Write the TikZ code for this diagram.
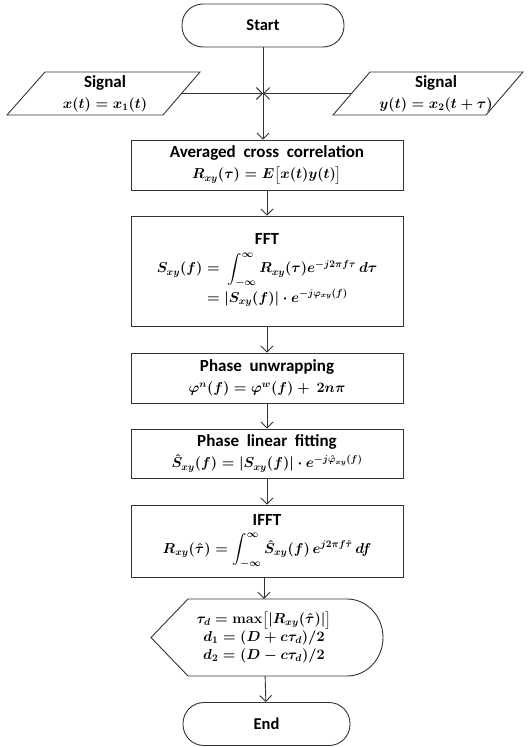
\documentclass[tikz,border=0pt]{standalone}
\usepackage{amsmath}
\usepackage[no-math]{fontspec}
\setmainfont{Carlito}
\usetikzlibrary{arrows.meta}
\newcommand\mathline[1]{{\fontsize{14.5}{20}\selectfont$#1$}}
\begin{document}
\begin{tikzpicture}[x=1pt,y=-1pt,
  line/.style={draw=black!80, line width=0.9pt},
  arr/.style={line, -{Straight Barb[length=6pt,width=12pt]}},
  txt/.style={font=\fontsize{17}{20}\selectfont\bfseries\boldmath, align=center},
  proc/.style={line, txt, rectangle, minimum width=272pt, inner sep=0pt},
  term/.style={line, txt, font=\fontsize{16.5}{20}\selectfont\bfseries, rounded corners=21pt, minimum width=162pt, minimum height=43pt, inner sep=0pt},
  lbl/.style={txt, inner sep=0pt}
]
\useasboundingbox (0,0) rectangle (531,747);

\node[term] (start) at (263,25.5) {Start};

% input parallelograms
\draw[line] (7,115) -- (45,72) -- (200,72) -- (163,115) -- cycle;
\node[lbl, minimum height=43pt] (sigx) at (105,93.5) {Signal\\[1pt] \mathline{x(t) = x_1(t)}};
\draw[line] (333,115) -- (370,72) -- (523,72) -- (486,115) -- cycle;
\node[lbl, minimum height=43pt] (sigy) at (436,93.5) {Signal\\[1pt] \mathline{y(t) = x_2(t+\tau)}};
\coordinate (sxr) at (181.5,93.5);
\coordinate (syl) at (351.5,93.5);
\coordinate (j) at (263,93.5);

\node[proc, minimum height=50pt] (corr) at (267,165) {Averaged\ \ cross\ \ correlation\\[1pt] \mathline{R_{xy}(\tau) = E\bigl[x(t)y(t)\bigr]}};

\node[proc, minimum height=110pt] (fft) at (267,271) {FFT\\[7pt]
 \mathline{\begin{aligned} S_{xy}(f) &=\ \int_{-\infty}^{\infty} R_{xy}(\tau)e^{-j2\pi f\tau}\,d\tau\\[-3pt]
 &= |S_{xy}(f)|\cdot e^{-j\varphi_{xy}(f)}\end{aligned}}};

\node[proc, minimum height=50pt] (unwrap) at (267,378) {Phase\ \ unwrapping\\[1pt] \mathline{\varphi^{n}(f) = \varphi^{w}(f) +\ 2n\pi}};

\node[proc, minimum height=49pt] (fit) at (267,453.5) {Phase\ \ linear\ \ fitting\\[1pt] \mathline{\hat{S}_{xy}(f) = |S_{xy}(f)|\cdot e^{-j\hat{\varphi}_{xy}(f)}}};

\node[proc, minimum height=72pt] (ifft) at (267,541) {IFFT\\[7pt] \mathline{\displaystyle R_{xy}(\hat{\tau}) = \int_{-\infty}^{\infty}\hat{S}_{xy}(f)\,e^{j2\pi f\hat{\tau}}\,df}};

% display shape
\draw[line] (188,599) -- (347,599) arc[start angle=-90,end angle=90,x radius=36,y radius=38.5] -- (188,676) -- (151,637.5) -- cycle;
\node[lbl, minimum height=77pt] (disp) at (264,637.5) {\mathline{\tau_d = \max\bigl[|R_{xy}(\hat{\tau})|\bigr]}\\[-2pt] \mathline{d_1 = (D + c\tau_d)/2}\\[-2pt] \mathline{d_2 = (D - c\tau_d)/2}};

\node[term, minimum width=167pt] (end) at (266.5,724) {End};

\draw[arr] (start) -- (start |- corr.north);
\draw[arr] (sxr) -- (j);
\draw[arr] (syl) -- (j);
\draw[arr] (corr) -- (fft);
\draw[arr] (fft) -- (unwrap);
\draw[arr] (unwrap) -- (fit);
\draw[arr] (fit) -- (ifft);
\draw[arr] (ifft.south -| disp.north) -- (disp.north);
\draw[arr] (disp) -- (end);
\end{tikzpicture}
\end{document}
